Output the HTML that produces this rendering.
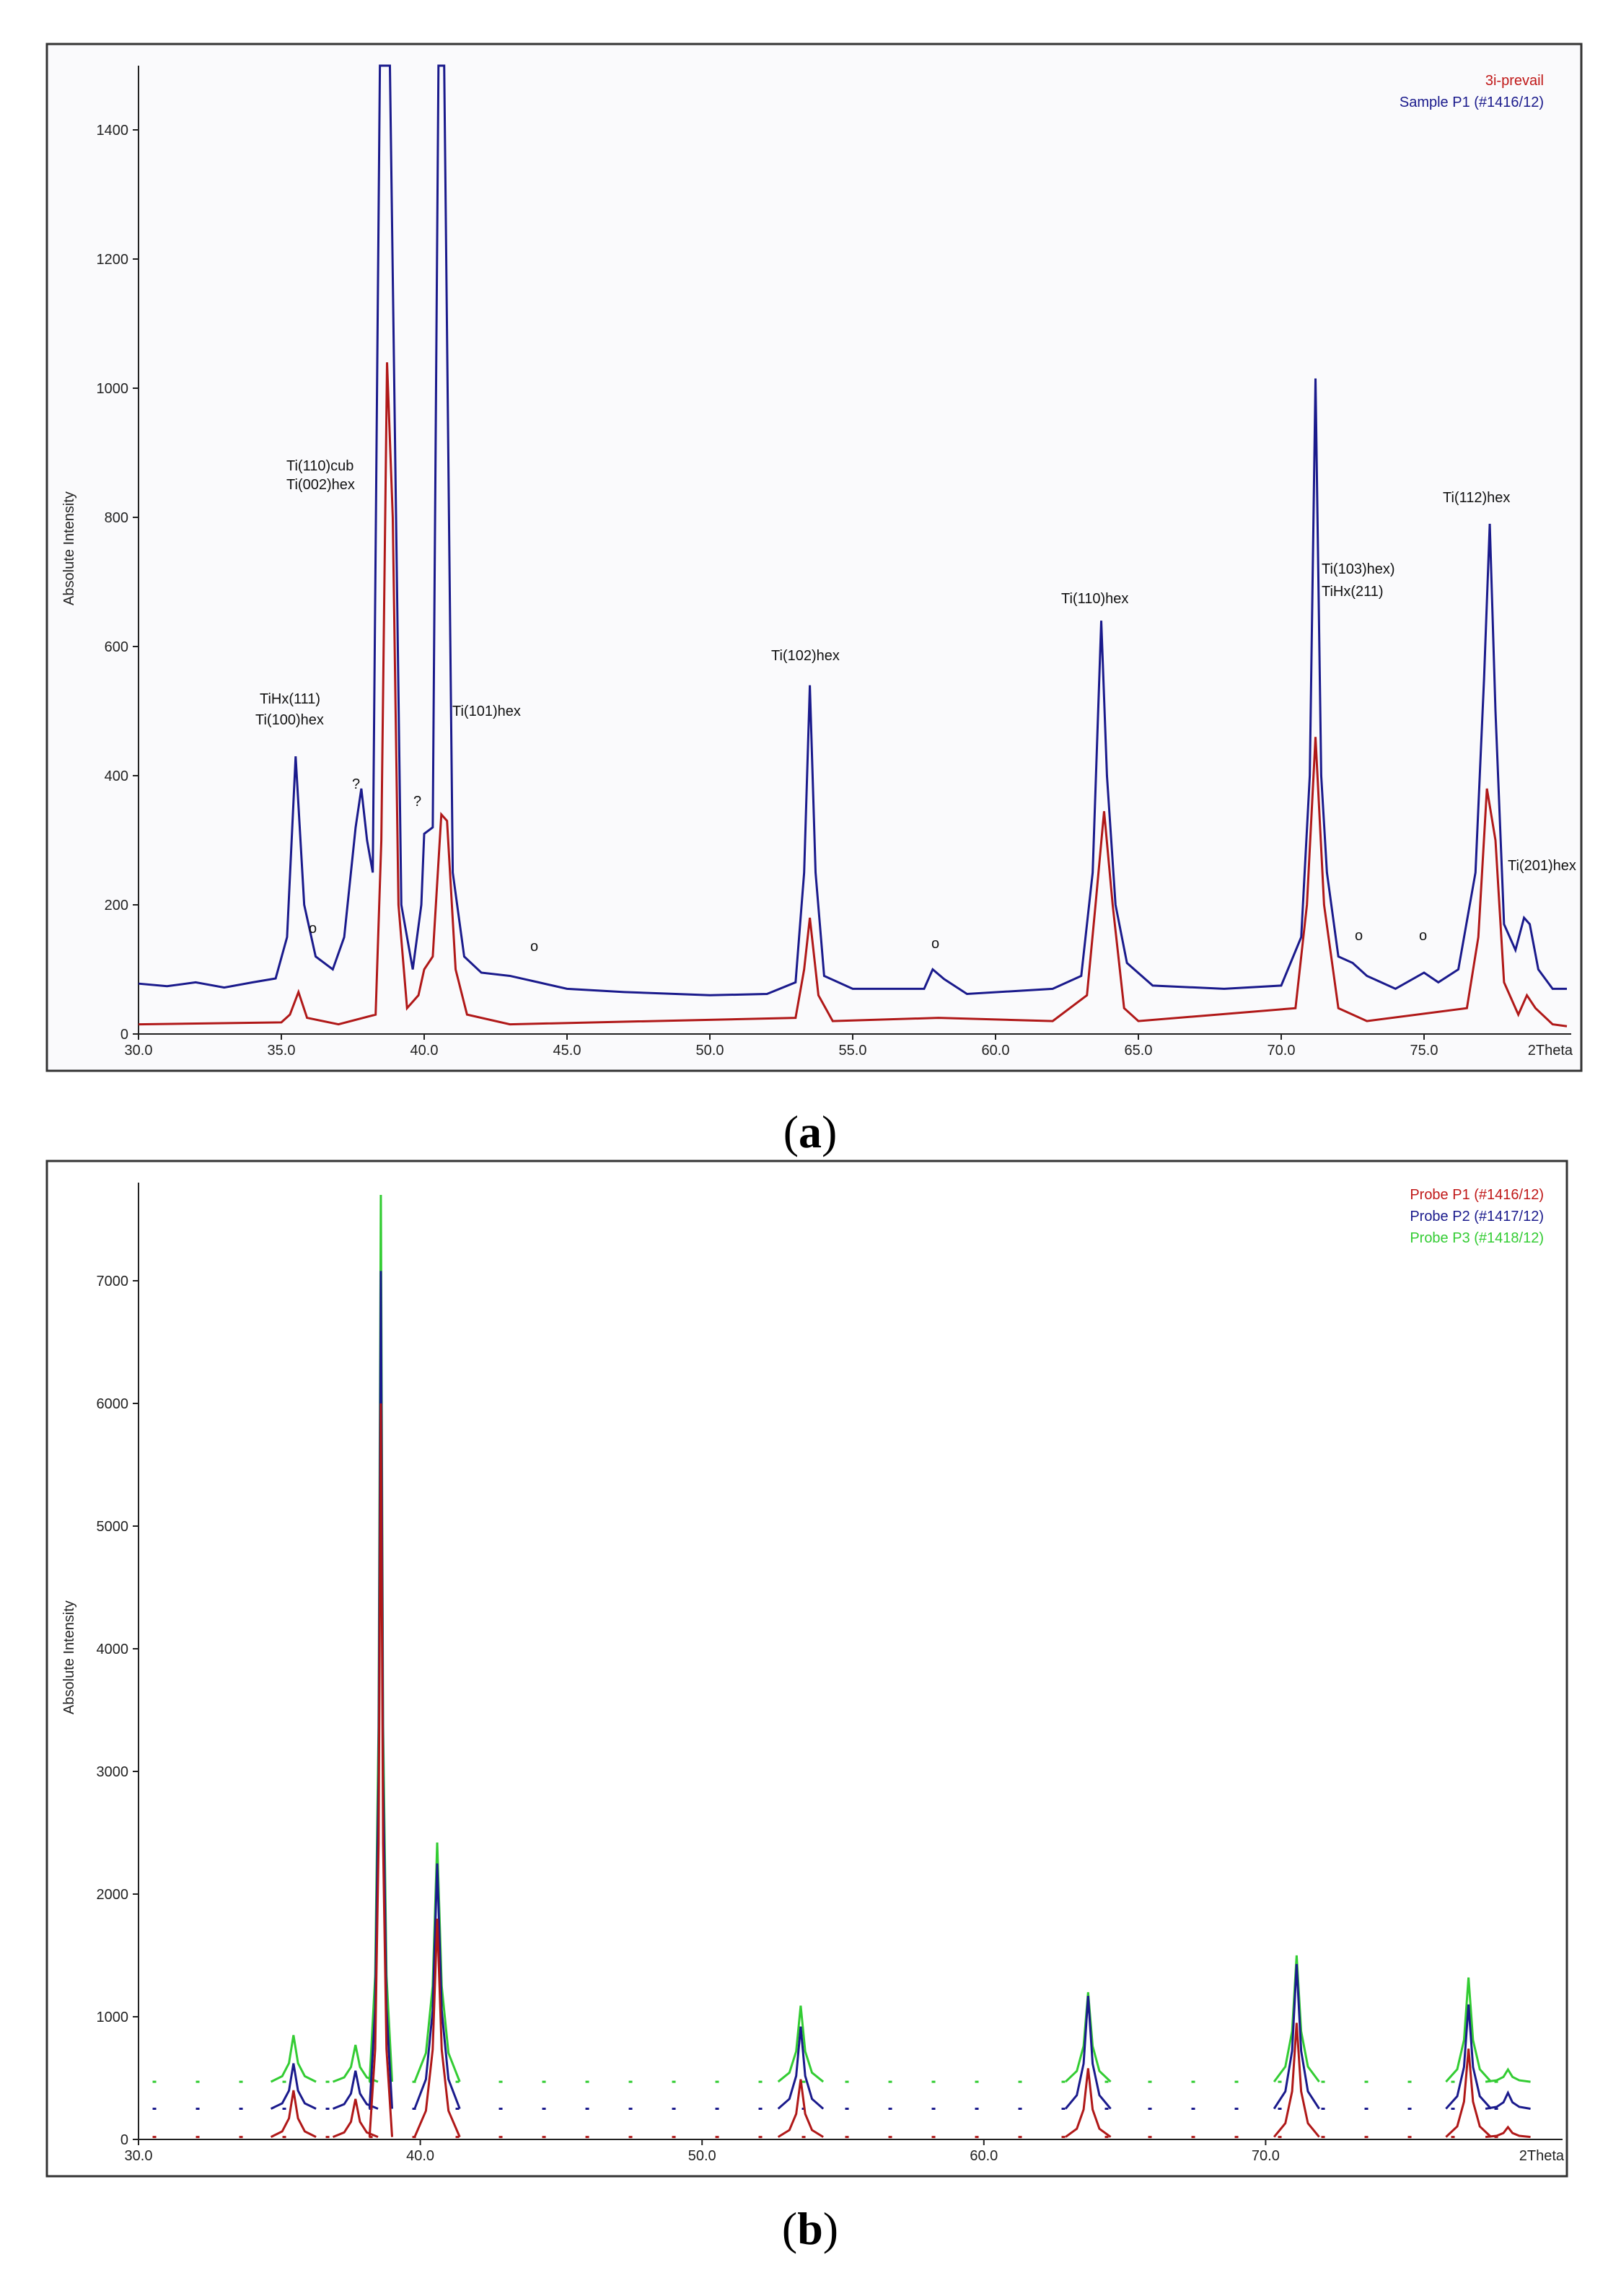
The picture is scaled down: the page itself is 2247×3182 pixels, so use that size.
<!DOCTYPE html>
<html><head><meta charset="utf-8"><style>
html,body{margin:0;padding:0;background:#fff;}
svg{display:block;font-family:"Liberation Sans",Arial,sans-serif;}
.tk{font-size:20px;fill:#222;}
.an{font-size:20px;fill:#111;}
</style></head><body>
<svg id="s" width="2247" height="3182" viewBox="0 0 2247 3182">
<rect x="65" y="61" width="2127" height="1423" fill="#fafafc" stroke="#333" stroke-width="3"/>
<rect x="65" y="1609" width="2107" height="1407" fill="#fff" stroke="#333" stroke-width="3"/>
<g id="ga"></g>
<g id="gb"></g>
<text x="1123" y="1590" font-family="Liberation Serif,serif" font-size="64" text-anchor="middle">(<tspan font-weight="bold">a</tspan>)</text>
<text x="1123" y="3110" font-family="Liberation Serif,serif" font-size="64" text-anchor="middle">(<tspan font-weight="bold">b</tspan>)</text>
</svg>
<script>
// ---------- Panel A data ----------
const aTicksX = [30,35,40,45,50,55,60,65,70,75];
const aTicksY = [0,200,400,600,800,1000,1200,1400];
const aBlue = [[30,78],[31,74],[32,80],[33,72],[34,80],[34.8,86],[35.2,150],[35.5,430],[35.8,200],[36.2,120],[36.8,100],[37.2,150],[37.6,320],[37.8,380],[38.0,300],[38.2,250],[38.45,1500],[38.55,1500],[38.6,1500],[38.75,1500],[38.8,1500],[39.2,200],[39.6,100],[39.9,200],[40.0,310],[40.3,320],[40.5,1500],[40.7,1500],[41.0,250],[41.4,120],[42,95],[43,90],[44,80],[45,70],[47,65],[50,60],[52,62],[53,80],[53.3,250],[53.5,540],[53.7,250],[54,90],[55,70],[57.5,70],[57.8,100],[58.2,85],[59,62],[62,70],[63,90],[63.4,250],[63.7,640],[63.9,400],[64.2,200],[64.6,110],[65.5,75],[68,70],[70,75],[70.7,150],[71,400],[71.2,1015],[71.4,400],[71.6,250],[72,120],[72.5,110],[73,90],[74,70],[75,95],[75.5,80],[76.2,100],[76.8,250],[77.1,550],[77.3,790],[77.5,500],[77.8,170],[78.2,130],[78.5,180],[78.7,170],[79,100],[79.5,70],[80,70]];
const aRed = [[30,15],[35,18],[35.3,30],[35.6,65],[35.9,25],[37,15],[38.3,30],[38.5,300],[38.7,1040],[38.9,800],[39.1,200],[39.4,40],[39.8,60],[40.0,100],[40.3,120],[40.6,340],[40.8,330],[41.1,100],[41.5,30],[43,15],[53,25],[53.3,100],[53.5,180],[53.8,60],[54.3,20],[58,25],[62,20],[63.2,60],[63.5,200],[63.8,345],[64.1,200],[64.5,40],[65,20],[70.5,40],[70.9,200],[71.2,460],[71.5,200],[72,40],[73,20],[76.5,40],[76.9,150],[77.2,380],[77.5,300],[77.8,80],[78.3,30],[78.6,60],[78.9,40],[79.5,15],[80,12]];
// ---------- Panel B data ----------
const bTicksX = [30,40,50,60,70];
const bTicksY = [0,1000,2000,3000,4000,5000,6000,7000];
const bPeakPos = [35.5,37.7,38.6,40.6,53.5,63.7,71.1,77.2,78.6];
const bGreen = [850,770,7700,2420,1090,1200,1500,1320,570];
const bBlue = [620,560,7080,2250,920,1170,1430,1100,380];
const bRed = [400,330,6000,1800,490,580,950,740,100];
const bBase = [470,250,20];

const NS="http://www.w3.org/2000/svg";
function mk(p,tag,attrs){const e=document.createElementNS(NS,tag);for(const k in attrs)e.setAttribute(k,attrs[k]);p.appendChild(e);return e;}
const axA={x:v=>192+(v-30)*39.6,y:v=>1433-v*0.895};
const axB={x:v=>192+(v-30)*39.06,y:v=>2965-v*0.17};

const ga=document.getElementById('ga');
let e=mk(ga,'line',{x1:192,y1:91,x2:192,y2:1433,stroke:'#222','stroke-width':2});


e=mk(ga,'line',{x1:192,y1:1433,x2:2178,y2:1433,stroke:'#222','stroke-width':2});


aTicksX.forEach(v=>{
  mk(ga,'line',{x1:axA.x(v),y1:1433,x2:axA.x(v),y2:1441,stroke:'#222','stroke-width':2});
  const t=mk(ga,'text',{x:axA.x(v),y:1462,'text-anchor':'middle',class:'tk'});t.textContent=v.toFixed(1);
  
  
});
e=mk(ga,'text',{x:2180,y:1462,'text-anchor':'end',class:'tk'});e.textContent='2Theta';


aTicksY.forEach(v=>{
  mk(ga,'line',{x1:184,y1:axA.y(v),x2:192,y2:axA.y(v),stroke:'#222','stroke-width':2});
  const t=mk(ga,'text',{x:178,y:axA.y(v)+7,'text-anchor':'end',class:'tk'});t.textContent=v;
  
  
});
e=mk(ga,'text',{x:102,y:760,'text-anchor':'middle',class:'tk',transform:'rotate(-90 102 760)'});e.textContent='Absolute Intensity';


e=mk(ga,'polyline',{points:aBlue.map(p=>axA.x(p[0])+','+Math.max(91,axA.y(p[1]))).join(' '),fill:'none',stroke:'#1a1a8c','stroke-width':3});


e=mk(ga,'polyline',{points:aRed.map(p=>axA.x(p[0])+','+axA.y(p[1])).join(' '),fill:'none',stroke:'#b01818','stroke-width':3});


e=mk(ga,'text',{x:2140,y:118,'text-anchor':'end',class:'tk'});e.textContent='3i-prevail';e.style.fill='#c01818';


e=mk(ga,'text',{x:2140,y:148,'text-anchor':'end',class:'tk'});e.textContent='Sample P1 (#1416/12)';e.style.fill='#1a1a8c';


const annos=[['Ti(110)cub',397,652],['Ti(002)hex',397,678],['TiHx(111)',360,975],['Ti(100)hex',354,1004],['?',488,1093],['?',573,1117],['Ti(101)hex',627,992],['o',428,1293],['o',735,1318],['o',1291,1314],['o',1878,1303],['o',1967,1303],['Ti(102)hex',1069,915],['Ti(110)hex',1471,836],['Ti(103)hex)',1832,795],['TiHx(211)',1832,826],['Ti(112)hex',2000,696],['Ti(201)hex',2090,1206]];
annos.forEach(a=>{const t=mk(ga,'text',{x:a[1],y:a[2],class:'an'});t.textContent=a[0];
  
  });

const gb=document.getElementById('gb');
e=mk(gb,'line',{x1:192,y1:1639,x2:192,y2:2965,stroke:'#222','stroke-width':2});


e=mk(gb,'line',{x1:192,y1:2965,x2:2166,y2:2965,stroke:'#222','stroke-width':2});


bTicksX.forEach(v=>{
  mk(gb,'line',{x1:axB.x(v),y1:2965,x2:axB.x(v),y2:2973,stroke:'#222','stroke-width':2});
  const t=mk(gb,'text',{x:axB.x(v),y:2994,'text-anchor':'middle',class:'tk'});t.textContent=v.toFixed(1);
  
  
});
e=mk(gb,'text',{x:2168,y:2994,'text-anchor':'end',class:'tk'});e.textContent='2Theta';


bTicksY.forEach(v=>{
  mk(gb,'line',{x1:184,y1:axB.y(v),x2:192,y2:axB.y(v),stroke:'#222','stroke-width':2});
  const t=mk(gb,'text',{x:178,y:axB.y(v)+7,'text-anchor':'end',class:'tk'});t.textContent=v;
  
  
});
e=mk(gb,'text',{x:102,y:2297,'text-anchor':'middle',class:'tk',transform:'rotate(-90 102 2297)'});e.textContent='Absolute Intensity';


const bSeries=[[bGreen,bBase[0],'#33cc33','b-series-p3'],[bBlue,bBase[1],'#1a1a8c','b-series-p2'],[bRed,bBase[2],'#b01818','b-series-p1']];
bSeries.forEach(s=>{
  const vals=s[0],base=s[1],col=s[2];
  const bl=mk(gb,'line',{x1:axB.x(30.5),y1:axB.y(base),x2:axB.x(79.6),y2:axB.y(base),stroke:col,'stroke-width':3,'stroke-dasharray':'5 55'});
  
  
  bPeakPos.forEach((c,i)=>{
    const h=vals[i]; if(h<=base)return;
    const w=h>3000?0.4:0.8;
    const pts=[[c-w,base],[c-w*0.5,base+(h-base)*0.12],[c-w*0.2,base+(h-base)*0.4],[c,h],[c+w*0.2,base+(h-base)*0.4],[c+w*0.5,base+(h-base)*0.12],[c+w,base]];
    const p=mk(gb,'polyline',{points:pts.map(q=>axB.x(q[0])+','+axB.y(q[1])).join(' '),fill:'none',stroke:col,'stroke-width':3});
    
    
  });
});
const leg=[['Probe P1 (#1416/12)','#c01818',1662],['Probe P2 (#1417/12)','#1a1a8c',1692],['Probe P3 (#1418/12)','#33cc33',1722]];
leg.forEach(l=>{const t=mk(gb,'text',{x:2140,y:l[2],'text-anchor':'end',class:'tk'});t.textContent=l[0];t.style.fill=l[1];
  
  });
</script>
</body></html>
